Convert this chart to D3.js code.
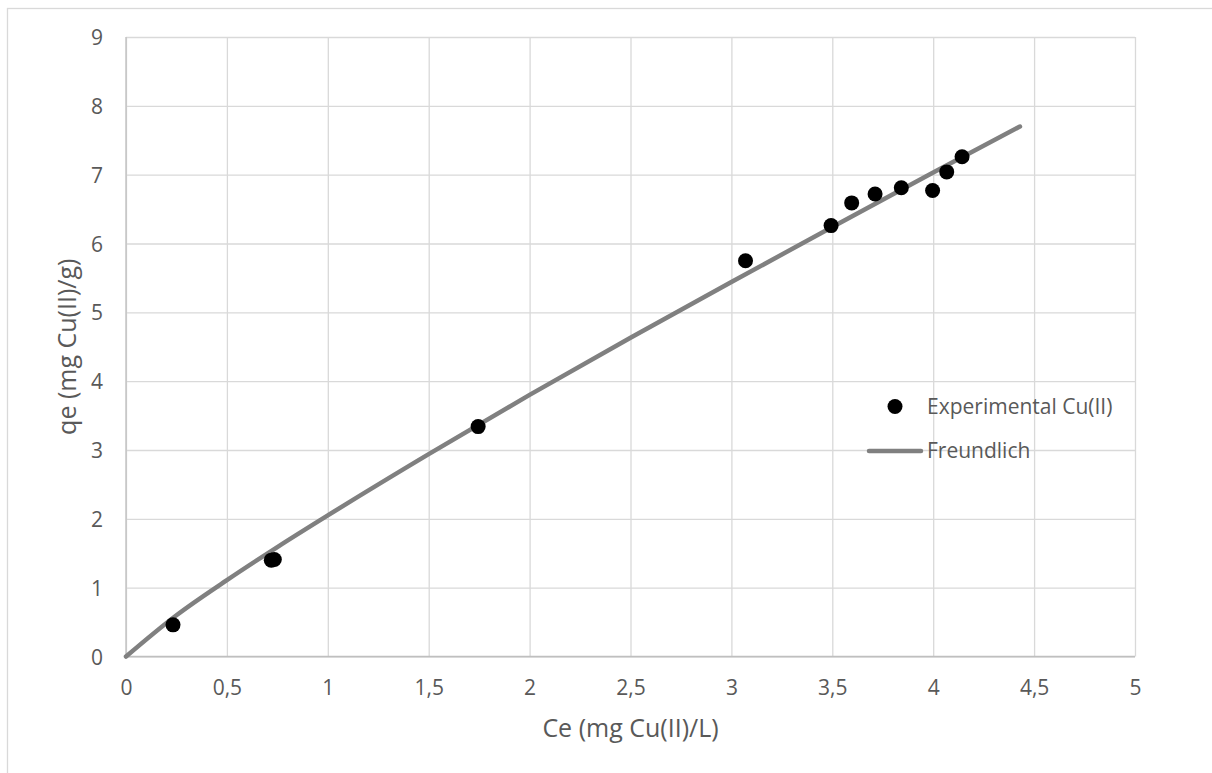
<!DOCTYPE html>
<html>
<head>
<meta charset="utf-8">
<script src="https://cdn.jsdelivr.net/npm/d3@7"></script>
<style>
  html, body { margin: 0; padding: 0; background: #fff; }
  svg { display: block; }
  text { font-family: "Open Sans", sans-serif; fill: #595959; }
</style>
</head>
<body>
<svg id="chart" width="1212" height="773"></svg>
<script>
// Experimental Cu(II) points
const ceExp = [0.233, 0.72, 0.735, 1.745, 3.07, 3.494, 3.596, 3.712, 3.842, 3.997, 4.067, 4.143];
const qeExp = [0.46, 1.40, 1.41, 3.34, 5.75, 6.26, 6.59, 6.72, 6.81, 6.77, 7.04, 7.26];
// Freundlich fitted curve
const ceFit = [0, 0.25, 0.5, 0.75, 1, 1.5, 2, 2.5, 3, 3.5, 4, 4.43];
const qeFit = [0, 0.6, 1.11, 1.59, 2.05, 2.94, 3.80, 4.63, 5.44, 6.24, 7.03, 7.70];
// Tick values
const xTicks = [0, 0.5, 1, 1.5, 2, 2.5, 3, 3.5, 4, 4.5, 5];
const yTicks = [0, 1, 2, 3, 4, 5, 6, 7, 8, 9];
const seriesNames = ["Experimental Cu(II)", "Freundlich"];
const xTitle = "Ce (mg Cu(II)/L)";
const yTitle = "qe (mg Cu(II)/g)";

const svg = d3.select("#chart");
const L = 126, R = 1135, T = 37, B = 656.5;
const x = d3.scaleLinear().domain([0, 5]).range([L, R]);
const y = d3.scaleLinear().domain([0, 9]).range([B, T]);
const fmt = v => String(v).replace(".", ",");

// outer chart border
svg.append("rect").attr("x", 7.5).attr("y", 8.5).attr("width", 1400).attr("height", 1000)
  .attr("fill", "none").attr("stroke", "#d9d9d9").attr("stroke-width", 1.3);

// gridlines
const gx = svg.append("g").attr("transform", `translate(0,${B})`)
  .call(d3.axisBottom(x).tickValues(xTicks).tickSize(-(B - T)).tickFormat(""));
gx.select(".domain").remove();
gx.selectAll("line").attr("stroke", "#d9d9d9").attr("stroke-width", 1.3);

const gy = svg.append("g").attr("transform", `translate(${L},0)`)
  .call(d3.axisLeft(y).tickValues(yTicks).tickSize(-(R - L)).tickFormat(""));
gy.select(".domain").remove();
gy.selectAll("line").attr("stroke", "#d9d9d9").attr("stroke-width", 1.3);

// axis lines
svg.append("line").attr("x1", L).attr("x2", R).attr("y1", y(0)).attr("y2", y(0))
  .attr("stroke", "#bfbfbf").attr("stroke-width", 1.3);
svg.append("line").attr("x1", L).attr("x2", L).attr("y1", y(0)).attr("y2", y(9))
  .attr("stroke", "#bfbfbf").attr("stroke-width", 1.3);

// tick labels
const xl = svg.append("g").attr("transform", `translate(0,${B})`)
  .call(d3.axisBottom(x).tickValues(xTicks).tickSize(0).tickPadding(0).tickFormat(fmt));
xl.select(".domain").remove();
xl.selectAll("text").attr("y", 38).attr("dy", null).attr("font-size", 21)
  .style("font-family", '"Open Sans", sans-serif').attr("fill", "#595959");

const yl = svg.append("g").attr("transform", `translate(${L},0)`)
  .call(d3.axisLeft(y).tickValues(yTicks).tickSize(0).tickPadding(0).tickFormat(fmt));
yl.select(".domain").remove();
yl.selectAll("text").attr("x", -23).attr("dy", "0.36em").attr("font-size", 21)
  .style("font-family", '"Open Sans", sans-serif').attr("fill", "#595959");

// axis titles
svg.append("text").attr("x", (L + R) / 2).attr("y", 737).attr("text-anchor", "middle")
  .attr("font-size", 25).text(xTitle);
svg.append("text").attr("transform", `translate(76,${(T + B) / 2}) rotate(-90)`)
  .attr("text-anchor", "middle").attr("font-size", 25).text(yTitle);

// Freundlich line
const fitData = ceFit.map((c, i) => [c, qeFit[i]]);
svg.append("path").datum(fitData)
  .attr("d", d3.line().x(d => x(d[0])).y(d => y(d[1])).curve(d3.curveMonotoneX))
  .attr("fill", "none").attr("stroke", "#808080").attr("stroke-width", 4.5).attr("stroke-linecap", "round");

// experimental points
const expData = ceExp.map((c, i) => [c, qeExp[i]]);
svg.append("g").selectAll("circle").data(expData).join("circle")
  .attr("cx", d => x(d[0])).attr("cy", d => y(d[1])).attr("r", 7.5).attr("fill", "#000");

// legend
const lg = svg.append("g");
lg.append("circle").attr("cx", 895).attr("cy", 406.5).attr("r", 7.5).attr("fill", "#000");
lg.append("text").attr("x", 927).attr("y", 414).attr("font-size", 21).text(seriesNames[0]);
lg.append("line").attr("x1", 869).attr("x2", 921).attr("y1", 451).attr("y2", 451)
  .attr("stroke", "#808080").attr("stroke-width", 4.5).attr("stroke-linecap", "round");
lg.append("text").attr("x", 927).attr("y", 458).attr("font-size", 21).text(seriesNames[1]);
</script>
</body>
</html>
